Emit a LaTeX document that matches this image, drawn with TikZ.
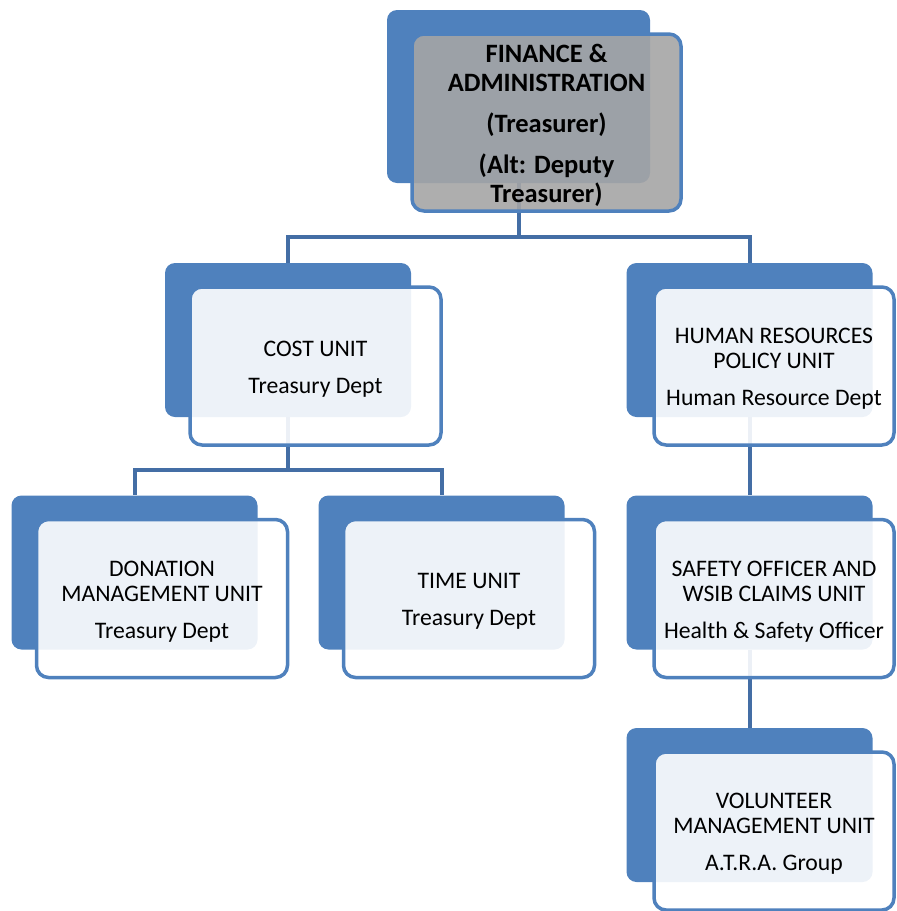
\documentclass[tikz,border=0pt]{standalone}
\usepackage{fontspec}
\setmainfont{Carlito}
\usetikzlibrary{backgrounds}
\definecolor{unitblue}{RGB}{79,129,189}
\definecolor{linkblue}{RGB}{68,110,165}
\definecolor{topgray}{RGB}{165,165,165}
\tikzset{
  back/.style={fill=unitblue, rounded corners=10pt, minimum width=246pt, minimum height=154pt, inner sep=0pt},
  front/.style={draw=unitblue, line width=3.5pt, fill=white, fill opacity=0.9, rounded corners=12pt,
    minimum width=251pt, minimum height=158pt, inner sep=0pt},
  narrow/.style={minimum width=240pt},
  unittext/.style={align=center, inner sep=0pt, font=\fontsize{23.7}{25}\selectfont},
  link/.style={draw=linkblue, line width=4pt},
}
\begin{document}
\begin{tikzpicture}[x=1pt,y=-1pt]
\useasboundingbox (0,0) rectangle (897,911);
\clip (0,0) rectangle (897,911);
% top unit
\node[back, minimum width=263pt, minimum height=173pt] (fin) at (518.5,96.5) {};
\node[front, fill=topgray, minimum width=269pt, minimum height=177pt] (finBox) at ([xshift=28pt,yshift=-26pt]fin.center) {};
\node[unittext, font=\bfseries\fontsize{26.5}{29}\selectfont] (finText) at ([yshift=-3pt]finBox.center)
  {FINANCE \&\\ADMINISTRATION\\[12pt](Treasurer)\\[12pt](Alt: Deputy\\Treasurer)};
% treasury side
\node[back] (cost) at (288,340) {};
\node[front] (costBox) at ([xshift=27.5pt,yshift=-26pt]cost.center) {};
\node[unittext] (costText) at ([yshift=-3pt]costBox.center) {COST UNIT\\[12pt]Treasury Dept};
\node[back] (donation) at (134.5,572.5) {};
\node[front] (donationBox) at ([xshift=27.5pt,yshift=-26pt]donation.center) {};
\node[unittext] (donationText) at ([yshift=-3pt]donationBox.center) {DONATION\\MANAGEMENT UNIT\\[12pt]Treasury Dept};
\node[back] (timeunit) at (441.5,572.5) {};
\node[front] (timeunitBox) at ([xshift=27.5pt,yshift=-26pt]timeunit.center) {};
\node[unittext] (timeunitText) at ([yshift=-3pt]timeunitBox.center) {TIME UNIT\\[12pt]Treasury Dept};
% human resources side
\node[back] (hr) at (749.5,340) {};
\node[front, narrow] (hrBox) at ([xshift=24.5pt,yshift=-26pt]hr.center) {};
\node[unittext] (hrText) at ([yshift=-3pt]hrBox.center) {HUMAN RESOURCES\\POLICY UNIT\\[12pt]Human Resource Dept};
\node[back] (safety) at (749.5,572.5) {};
\node[front, narrow] (safetyBox) at ([xshift=24.5pt,yshift=-26pt]safety.center) {};
\node[unittext] (safetyText) at ([yshift=-3pt]safetyBox.center) {SAFETY OFFICER AND\\WSIB CLAIMS UNIT\\[12pt]Health \& Safety Officer};
\node[back] (volunteer) at (749.5,805) {};
\node[front, narrow] (volunteerBox) at ([xshift=24.5pt,yshift=-26pt]volunteer.center) {};
\node[unittext] (volunteerText) at ([yshift=-3pt]volunteerBox.center) {VOLUNTEER\\MANAGEMENT UNIT\\[12pt]A.T.R.A. Group};
% connectors
\begin{scope}[on background layer]
\draw[link] (fin.south) -- ++(0,54) -| (cost.north);
\draw[link] (fin.south) -- ++(0,54) -| (hr.north);
\draw[link] (cost.south) -- ++(0,53) -| (donation.north);
\draw[link] (cost.south) -- ++(0,53) -| (timeunit.north);
\draw[link] (hr.south) -- (safety.north);
\draw[link] (safety.south) -- (volunteer.north);
\end{scope}
\end{tikzpicture}
\end{document}
